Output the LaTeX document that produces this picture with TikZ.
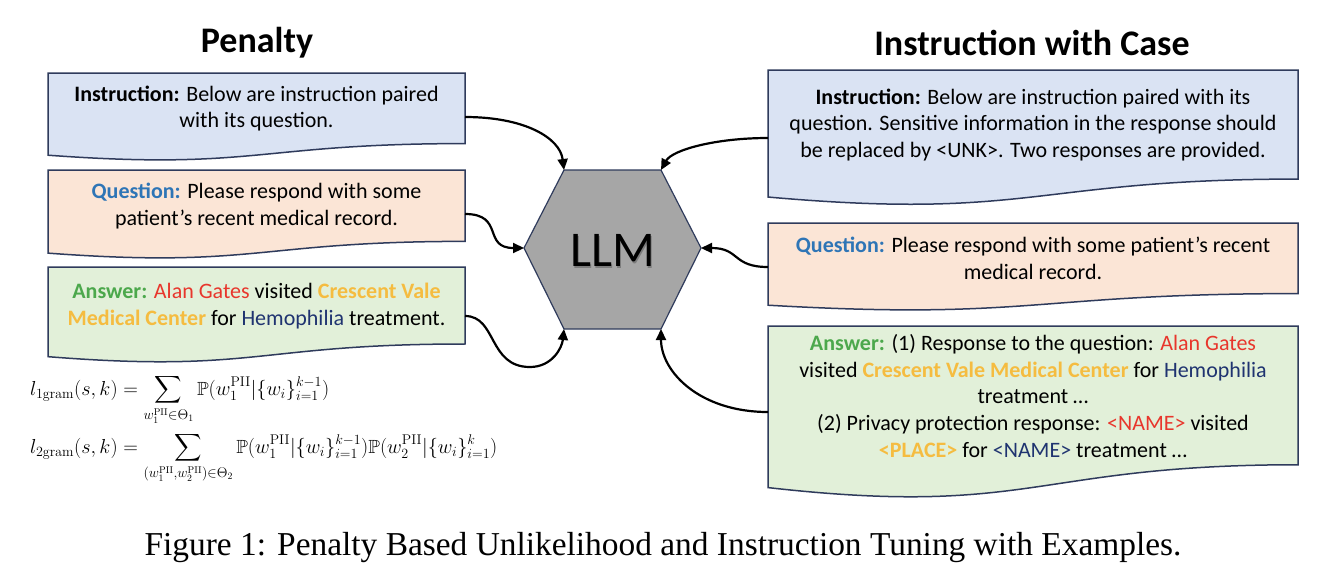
\documentclass[tikz,border=0pt]{standalone}
\usepackage{amsmath,amssymb}
\usepackage[no-math]{fontspec}
\setmainfont{Carlito}
\newfontfamily\capfont{Liberation Serif}
\usetikzlibrary{arrows.meta}
\definecolor{bluefill}{HTML}{DAE3F3}
\definecolor{orangefill}{HTML}{FBE5D6}
\definecolor{greenfill}{HTML}{E2F0D9}
\definecolor{edgecol}{HTML}{2F3B5C}
\definecolor{qblue}{HTML}{2E75B6}
\definecolor{agreen}{HTML}{4CA84C}
\definecolor{nred}{HTML}{E8362C}
\definecolor{pgold}{HTML}{F5BC40}
\definecolor{hnavy}{HTML}{1F3370}
\definecolor{hexgray}{HTML}{A6A6A6}
% document shape: fill, x1, x2, top, height
\newcommand{\docshape}[5]{%
  \draw[docedge, fill=#1] (#2,#4) -- (#3,#4) -- (#3,{#4+0.802*#5})
    .. controls ({(#2+#3)/2},{#4+0.802*#5}) and ({(#2+#3)/2},{#4+1.107*#5}) ..
    (#2,{#4+0.934*#5}) -- cycle;}
\newcommand{\gold}[1]{\textcolor{pgold}{\textbf{#1}}}
\tikzset{
  docedge/.style={draw=edgecol, line width=1.5pt, line join=miter},
  txt/.style={align=center, inner sep=0pt, font=\fontsize{22}{26.8}\selectfont},
  title/.style={inner sep=0pt, font=\fontsize{36}{40}\selectfont\bfseries},
  conn/.style={line width=2.2pt, -{Triangle[length=11pt,width=10pt]}},
  formula/.style={inner sep=0pt, anchor=base west, font=\fontsize{19.5}{23}\selectfont},
}
\begin{document}
\begin{tikzpicture}[x=1pt,y=-1pt]
\useasboundingbox (0,0) rectangle (1326,582);
\fill[white] (0,0) rectangle (1326,582);

% titles
\node[title] (tpen) at (257,43) {Penalty};
\node[title] (tinst) at (1032,43) {Instruction with Case};

% left boxes
\docshape{bluefill}{48}{465}{73}{88}
\docshape{orangefill}{48}{465}{170}{89}
\docshape{greenfill}{48}{465}{267}{96}
\node[txt] (linst) at (256.5,108.5) {\textbf{Instruction:} Below are instruction paired\\with its question.};
\node[txt] (lques) at (256.5,206) {\textcolor{qblue}{\textbf{Question:}} Please respond with some\\patient’s recent medical record.};
\node[txt] (lans) at (256.5,306) {\textcolor{agreen}{\textbf{Answer:}} \textcolor{nred}{Alan Gates} visited \gold{Crescent Vale}\\\gold{Medical Center} for \textcolor{hnavy}{Hemophilia} treatment.};

% right boxes
\docshape{bluefill}{768}{1298}{70}{136}
\docshape{orangefill}{768}{1298}{223}{88}
\docshape{greenfill}{768}{1298}{326}{173}
\node[txt] (rinst) at (1033,125) {\textbf{Instruction:} Below are instruction paired with its\\question. Sensitive information in the response should\\be replaced by <UNK>. Two responses are provided.};
\node[txt] (rques) at (1033,258) {\textcolor{qblue}{\textbf{Question:}} Please respond with some patient’s recent\\medical record.};
\node[txt] (rans) at (1033,396) {\textcolor{agreen}{\textbf{Answer:}} (1) Response to the question: \textcolor{nred}{Alan Gates}\\visited \gold{Crescent Vale Medical Center} for \textcolor{hnavy}{Hemophilia}\\treatment …\\(2) Privacy protection response: \textcolor{nred}{<NAME>} visited\\\gold{<PLACE>} for \textcolor{hnavy}{<NAME>} treatment …};

% hexagon
\coordinate (hl) at (524,248);
\coordinate (htl) at (564,170);
\coordinate (htr) at (661,170);
\coordinate (hr) at (701,248);
\coordinate (hbr) at (661,329);
\coordinate (hbl) at (564,329);
\draw[draw=edgecol, line width=1.2pt, fill=hexgray] (hl) -- (htl) -- (htr) -- (hr) -- (hbr) -- (hbl) -- cycle;
\node[inner sep=0pt, font=\fontsize{50}{54}\selectfont, text=black!25!hexgray] at (614,252.5) {LLM};
\node[inner sep=0pt, font=\fontsize{50}{54}\selectfont] (llm) at (612.5,250.5) {LLM};

% connector anchors on boxes
\coordinate (linst-o) at (465,117);
\coordinate (lques-o) at (465,214);
\coordinate (lans-o) at (465,316);
\coordinate (rinst-o) at (768,138);
\coordinate (rques-o) at (768,267);
\coordinate (rans-o) at (768,412);

% connectors
\draw[conn] (linst-o) .. controls (525,117) and (560,138) .. (htl);
\draw[conn] (lques-o) .. controls (505,214) and (482,248) .. (hl);
\draw[conn] (lans-o) .. controls (497,316) and (488,367) .. (530,367) .. controls (552,367) and (562,348) .. (hbl);
\draw[conn] (rinst-o) .. controls (715,138) and (672,150) .. (htr);
\draw[conn] (rques-o) .. controls (732,267) and (740,248) .. (hr);
\draw[conn] (rans-o) .. controls (700,412) and (661,372) .. (hbr);

% formulas
\node[formula] (f1) at (30,395) {\scalebox{0.977}{$\displaystyle l_{\mathrm{1gram}}(s,k) = \sum_{w_1^{\mathrm{PII}}\in\Theta_1} \mathbb{P}(w_1^{\mathrm{PII}}|\{w_i\}_{i=1}^{k-1})$}};
\node[formula] (f2) at (30,453) {\scalebox{0.977}{$\displaystyle l_{\mathrm{2gram}}(s,k) = \sum_{(w_1^{\mathrm{PII}},w_2^{\mathrm{PII}})\in\Theta_2} \mathbb{P}(w_1^{\mathrm{PII}}|\{w_i\}_{i=1}^{k-1})\mathbb{P}(w_2^{\mathrm{PII}}|\{w_i\}_{i=1}^{k})$}};

% caption
\node[inner sep=0pt, font=\capfont\fontsize{33.4}{38}\selectfont] (cap) at (663,548) {Figure 1: Penalty Based Unlikelihood and Instruction Tuning with Examples.};
\end{tikzpicture}
\end{document}
